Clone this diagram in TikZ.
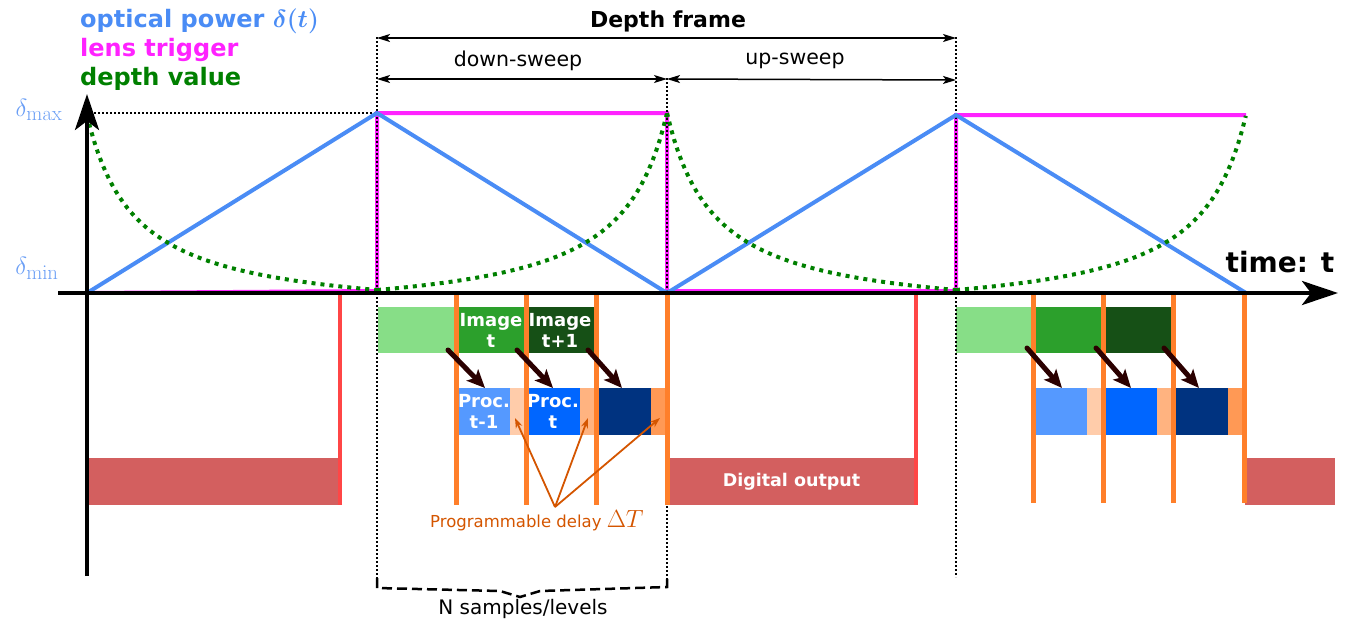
\documentclass[tikz,border=0pt]{standalone}
\usepackage[no-math]{fontspec}
\setmainfont{DejaVu Sans}
\usepackage{amsmath,bm}
\usetikzlibrary{arrows.meta}
\definecolor{optblue}{HTML}{4A8CF5}
\definecolor{dblue}{HTML}{6A9EF5}
\definecolor{lenspink}{HTML}{FF22FF}
\definecolor{depgreen}{HTML}{008000}
\definecolor{imgL}{HTML}{87DE87}
\definecolor{imgM}{HTML}{2CA02C}
\definecolor{imgD}{HTML}{165016}
\definecolor{prL}{HTML}{5599FF}
\definecolor{prM}{HTML}{0066FF}
\definecolor{prD}{HTML}{003380}
\definecolor{dlA}{HTML}{FFCCAA}
\definecolor{dlB}{HTML}{FFB380}
\definecolor{dlC}{HTML}{FF9955}
\definecolor{trig}{HTML}{FF7F2A}
\definecolor{redl}{HTML}{FF4646}
\definecolor{outbox}{HTML}{D35F5F}
\definecolor{darr}{HTML}{2B0000}
\definecolor{lbl}{HTML}{D45500}
\begin{document}
\begin{tikzpicture}[x=1pt,y=-1pt,
  blk/.style={draw=none,inner sep=0pt,outer sep=0pt,anchor=north west,text=white,align=center,
              font=\bfseries\fontsize{18}{21}\selectfont},
  legend/.style={anchor=base west,inner sep=0pt,font=\bfseries\fontsize{24}{28}\selectfont},
  vdot/.style={black,line width=2pt,dash pattern=on 2pt off 2pt},
  dimarr/.style={black,line width=1.5pt,{Stealth[length=13pt,width=8pt,inset=3pt]}-{Stealth[length=13pt,width=8pt,inset=3pt]}},
  axis/.style={black,line width=4pt,-{Stealth[length=36pt,width=24pt,inset=9pt]}},
  trigline/.style={trig,line width=5pt},
  redline/.style={redl,line width=4pt},
  darkarrow/.style={darr,line width=5pt,line cap=round,-{Stealth[length=18pt,width=16pt,inset=4pt]}},
  lblarrow/.style={lbl,line width=1.8pt,-{Stealth[length=10pt,width=7pt]}},
  greendot/.style={depgreen,line width=4pt,dash pattern=on 4pt off 5pt},
  optline/.style={optblue,line width=4pt},
  pinkline/.style={lenspink,line width=4pt}]
\useasboundingbox (0,0) rectangle (1347,622);

% legend
\node[legend,text=optblue] (lg1) at (80,27) {optical power {\boldmath$\delta(t)$}};
\node[legend,text=lenspink] (lg2) at (80,56) {lens trigger};
\node[legend,text=depgreen] (lg3) at (80,85) {depth value};

% delta labels
\node[text=dblue,font=\fontsize{30}{30}\selectfont,inner sep=0pt] (dmax) at (39,110) {$\delta_{\max}$};
\node[text=dblue,font=\fontsize{30}{30}\selectfont,inner sep=0pt] (dmin) at (37,268) {$\delta_{\min}$};

% key coordinates
\coordinate (o) at (87,293);
\coordinate (A) at (377,113);
\coordinate (B) at (667,293);
\coordinate (C) at (956,115);
\coordinate (D) at (1246,293);

% digital output boxes
\node[blk,fill=outbox,minimum width=252pt,minimum height=47pt] (out0) at (87,458) {};
\node[blk,fill=outbox,minimum width=249pt,minimum height=47pt,font=\bfseries\fontsize{17.5}{21}\selectfont] (out1) at (667,458) {Digital output};
\node[blk,fill=outbox,minimum width=90pt,minimum height=47pt] (out2) at (1245,458) {};

% image blocks frame 1
\node[blk,fill=imgL,minimum width=78pt,minimum height=46pt] (i0) at (378,307) {};
\node[blk,fill=imgM,minimum width=70pt,minimum height=46pt] (i1) at (456,307) {Image\\t};
\node[blk,fill=imgD,minimum width=68pt,minimum height=46pt] (i2) at (526,307) {Image\\t+1};
% image blocks frame 2
\node[blk,fill=imgL,minimum width=77pt,minimum height=46pt] (j0) at (956,307) {};
\node[blk,fill=imgM,minimum width=70pt,minimum height=46pt] (j1) at (1033,307) {};
\node[blk,fill=imgD,minimum width=68pt,minimum height=46pt] (j2) at (1103,307) {};

% processing blocks frame 1
\node[blk,fill=prL,minimum width=52pt,minimum height=47pt] (p1) at (458,388) {Proc.\\t-1};
\node[blk,fill=dlA,minimum width=16pt,minimum height=47pt] (q1) at (510,388) {};
\node[blk,fill=prM,minimum width=54pt,minimum height=47pt] (p2) at (526,388) {Proc.\\t};
\node[blk,fill=dlB,minimum width=16pt,minimum height=47pt] (q2) at (580,388) {};
\node[blk,fill=prD,minimum width=53pt,minimum height=47pt] (p3) at (598,388) {};
\node[blk,fill=dlC,minimum width=15pt,minimum height=47pt] (q3) at (651,388) {};
% processing blocks frame 2
\node[blk,fill=prL,minimum width=52pt,minimum height=47pt] (r1) at (1035,388) {};
\node[blk,fill=dlA,minimum width=16pt,minimum height=47pt] (s1) at (1087,388) {};
\node[blk,fill=prM,minimum width=54pt,minimum height=47pt] (r2) at (1103,388) {};
\node[blk,fill=dlB,minimum width=16pt,minimum height=47pt] (s2) at (1157,388) {};
\node[blk,fill=prD,minimum width=53pt,minimum height=47pt] (r3) at (1175,388) {};
\node[blk,fill=dlC,minimum width=15pt,minimum height=47pt] (s3) at (1228,388) {};

% lens trigger
\draw[pinkline] (o) -- (377,291) -- (A) -- (667,113) -- (667,291) -- (956,291) -- (C) -- (1246,115);

% dotted guides
\draw[vdot] (377,37) -- (377,580);
\draw[vdot] (667,78) -- (667,580);
\draw[vdot] (956,37) -- (956,577);
\draw[vdot] (90,113) -- (A);

% trigger lines
\foreach \xx in {456,526,596,667} \draw[trigline] (\xx,293) -- (\xx,505);
\foreach \xx in {1033,1103,1173,1244} \draw[trigline] (\xx,293) -- (\xx,503);
\draw[redline] (340,293) -- (340,505);
\draw[redline] (916,293) -- (916,505);

% dark arrows
\coordinate (a1s) at (448,350); \coordinate (a1e) at (485,388);
\coordinate (a2s) at (517,350); \coordinate (a2e) at (553,388);
\coordinate (a3s) at (588,350); \coordinate (a3e) at (622,388);
\coordinate (b1s) at (1027,348); \coordinate (b1e) at (1062,388);
\coordinate (b2s) at (1096,348); \coordinate (b2e) at (1131,388);
\coordinate (b3s) at (1164,348); \coordinate (b3e) at (1199,388);
\foreach \s/\e in {a1s/a1e,a2s/a2e,a3s/a3e,b1s/b1e,b2s/b2e,b3s/b3e}
  \draw[darkarrow] (\s) -- (\e);

% optical power
\draw[optline] (o) -- (A) -- (B) -- (C) -- (D);

% depth value
\draw[greendot] plot[domain=0:1,samples=80] ({87+290*\x},{290-175*(7/(1+6*\x)-1)/6});
\draw[greendot] plot[domain=1:0,samples=80] ({667-290*\x},{290-177*(7/(1+6*\x)-1)/6});
\draw[greendot] plot[domain=0:1,samples=80] ({667+289*\x},{290-177*(7/(1+6*\x)-1)/6});
\draw[greendot] plot[domain=1:0,samples=80] ({1246-290*\x},{290-175*(7/(1+6*\x)-1)/6});

% axes
\coordinate (xs) at (58,293); \coordinate (xe) at (1338,293);
\coordinate (ys) at (87,576); \coordinate (ye) at (87,94);
\draw[axis] (xs) -- (xe);
\draw[axis] (ys) -- (ye);
\node[font=\bfseries\fontsize{28}{28}\selectfont,inner sep=0pt] (tl) at (1280,262) {time: t};

% dimension arrows
\coordinate (f0) at (377,38); \coordinate (f1) at (956,38);
\coordinate (d0) at (377,79); \coordinate (d1) at (667,79); \coordinate (d2) at (956,80);
\draw[dimarr] (f0) -- (f1);
\draw[dimarr] (d0) -- (d1);
\draw[dimarr] (d1) -- (d2);
\node[font=\bfseries\fontsize{22}{26}\selectfont,inner sep=0pt] (df) at (668,21) {Depth frame};
\node[font=\fontsize{20.5}{24}\selectfont,inner sep=0pt] (ds) at (518,61) {down-sweep};
\node[font=\fontsize{20.5}{24}\selectfont,inner sep=0pt] (us) at (795,61) {up-sweep};

% programmable delay
\coordinate (apex) at (555,507);
\coordinate (t1) at (515,418); \coordinate (t2) at (588,418); \coordinate (t3) at (660,418);
\foreach \t in {t1,t2,t3} \draw[lblarrow] (apex) -- (\t);
\node[text=lbl,font=\fontsize{16.5}{20}\selectfont,inner sep=0pt,anchor=base west] (pd) at (430,527) {Programmable delay {\fontsize{24}{24}\selectfont$\Delta T$}};

% brace
\coordinate (bl) at (377,578); \coordinate (br) at (667,578); \coordinate (bt) at (520,597);
\draw[black,line width=2.5pt,dash pattern=on 10pt off 5pt,line join=miter]
  (bl) -- (377,588) -- (500,591) -- (bt) -- (540,591) -- (667,587) -- (br);
\node[font=\fontsize{20}{24}\selectfont,inner sep=0pt] (ns) at (523,609) {N samples/levels};
\end{tikzpicture}
\end{document}
